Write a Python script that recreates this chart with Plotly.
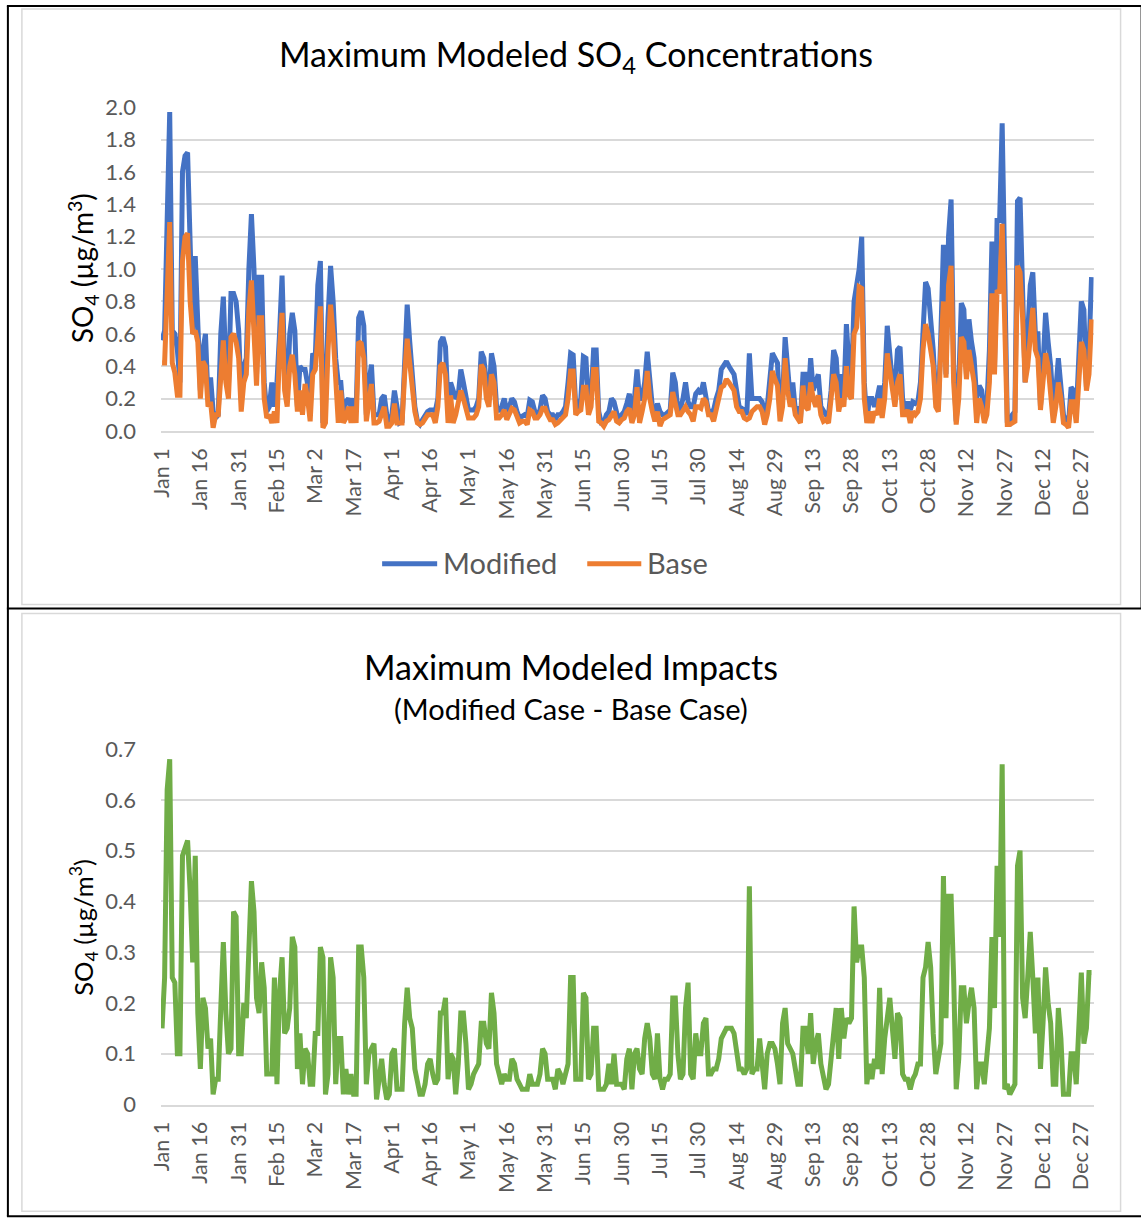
import pandas as pd
import plotly.graph_objects as go

# ---------------- data (daily values, Jan 1 .. Dec 31) ----------------
start_date = "2019-01-01"
n_days = 365

modified = [
    0.56, 0.62, 1.30, 1.97, 0.62, 0.60, 0.50, 0.30, 1.60, 1.70, 1.72, 1.00, 0.60, 1.08, 0.60,
    0.25, 0.50, 0.60, 0.20, 0.33, 0.12, 0.08, 0.10, 0.60, 0.83, 0.40, 0.28, 0.85, 0.85, 0.80,
    0.62, 0.20, 0.40, 0.45, 1.00, 1.34, 1.00, 0.35, 0.95, 0.95, 0.30, 0.12, 0.15, 0.30, 0.15,
    0.30, 0.60, 0.96, 0.40, 0.20, 0.60, 0.73, 0.62, 0.15, 0.40, 0.38, 0.38, 0.30, 0.20, 0.48,
    0.45, 0.90, 1.05, 0.05, 0.20, 0.70, 1.02, 0.80, 0.45, 0.30, 0.30, 0.10, 0.18, 0.20, 0.15,
    0.20, 0.12, 0.70, 0.74, 0.65, 0.10, 0.30, 0.41, 0.10, 0.10, 0.10, 0.20, 0.22, 0.10, 0.05,
    0.10, 0.25, 0.15, 0.05, 0.06, 0.50, 0.78, 0.55, 0.30, 0.15, 0.06, 0.04, 0.07, 0.10, 0.12,
    0.13, 0.13, 0.12, 0.20, 0.55, 0.58, 0.52, 0.15, 0.30, 0.25, 0.20, 0.22, 0.38, 0.30, 0.20,
    0.13, 0.13, 0.13, 0.15, 0.20, 0.49, 0.45, 0.30, 0.20, 0.48, 0.40, 0.15, 0.12, 0.15, 0.20,
    0.12, 0.15, 0.20, 0.18, 0.12, 0.08, 0.09, 0.10, 0.09, 0.19, 0.18, 0.12, 0.10, 0.13, 0.22,
    0.20, 0.12, 0.10, 0.10, 0.07, 0.10, 0.10, 0.12, 0.15, 0.30, 0.48, 0.47, 0.15, 0.15, 0.20,
    0.46, 0.45, 0.15, 0.20, 0.50, 0.50, 0.12, 0.05, 0.05, 0.10, 0.12, 0.20, 0.18, 0.10, 0.05,
    0.10, 0.12, 0.17, 0.23, 0.10, 0.20, 0.38, 0.20, 0.20, 0.30, 0.49, 0.30, 0.15, 0.10, 0.17,
    0.12, 0.10, 0.10, 0.12, 0.13, 0.36, 0.30, 0.12, 0.14, 0.20, 0.30, 0.18, 0.15, 0.15, 0.23,
    0.25, 0.23, 0.30, 0.22, 0.12, 0.12, 0.13, 0.20, 0.25, 0.38, 0.40, 0.43, 0.40, 0.38, 0.35,
    0.25, 0.15, 0.14, 0.13, 0.10, 0.48, 0.20, 0.20, 0.20, 0.20, 0.18, 0.10, 0.15, 0.30, 0.48,
    0.45, 0.42, 0.10, 0.20, 0.58, 0.40, 0.20, 0.30, 0.13, 0.15, 0.07, 0.35, 0.35, 0.20, 0.45,
    0.25, 0.30, 0.35, 0.15, 0.12, 0.10, 0.10, 0.25, 0.50, 0.45, 0.20, 0.35, 0.20, 0.66, 0.40,
    0.30, 0.80, 0.90, 1.00, 1.20, 0.30, 0.06, 0.20, 0.20, 0.15, 0.20, 0.28, 0.15, 0.30, 0.65,
    0.50, 0.30, 0.25, 0.50, 0.52, 0.20, 0.13, 0.18, 0.13, 0.18, 0.17, 0.18, 0.30, 0.60, 0.92,
    0.88, 0.70, 0.50, 0.20, 0.15, 0.60, 1.15, 0.35, 1.20, 1.43, 0.40, 0.06, 0.30, 0.79, 0.75,
    0.35, 0.69, 0.55, 0.45, 0.20, 0.28, 0.25, 0.10, 0.15, 0.50, 1.17, 0.38, 1.30, 1.30, 1.90,
    0.90, 0.06, 0.05, 0.10, 0.12, 1.42, 1.44, 0.85, 0.30, 0.60, 0.90, 0.98, 0.60, 0.60, 0.15,
    0.40, 0.73, 0.55, 0.40, 0.15, 0.25, 0.45, 0.30, 0.10, 0.06, 0.05, 0.27, 0.25, 0.10, 0.40,
    0.80, 0.75, 0.27, 0.50, 0.95,
]

base = [
    0.42, 0.42, 0.85, 1.29, 0.42, 0.36, 0.22, 0.22, 1.05, 1.20, 1.22, 0.80, 0.60, 0.62, 0.55,
    0.20, 0.43, 0.40, 0.15, 0.18, 0.02, 0.10, 0.10, 0.40, 0.56, 0.30, 0.20, 0.58, 0.60, 0.55,
    0.45, 0.12, 0.30, 0.35, 0.75, 0.93, 0.60, 0.28, 0.70, 0.70, 0.20, 0.08, 0.10, 0.05, 0.12,
    0.05, 0.50, 0.73, 0.25, 0.15, 0.40, 0.47, 0.35, 0.12, 0.25, 0.10, 0.29, 0.20, 0.06, 0.35,
    0.38, 0.60, 0.77, 0.02, 0.05, 0.50, 0.78, 0.60, 0.35, 0.05, 0.25, 0.05, 0.08, 0.15, 0.05,
    0.15, 0.05, 0.55, 0.54, 0.45, 0.06, 0.20, 0.29, 0.05, 0.05, 0.06, 0.10, 0.15, 0.03, 0.03,
    0.05, 0.17, 0.05, 0.05, 0.05, 0.35, 0.57, 0.42, 0.25, 0.12, 0.05, 0.04, 0.05, 0.08, 0.10,
    0.10, 0.10, 0.05, 0.15, 0.40, 0.42, 0.35, 0.05, 0.22, 0.05, 0.10, 0.18, 0.25, 0.20, 0.15,
    0.08, 0.08, 0.08, 0.10, 0.15, 0.41, 0.38, 0.20, 0.15, 0.35, 0.30, 0.08, 0.08, 0.10, 0.13,
    0.07, 0.10, 0.14, 0.13, 0.08, 0.05, 0.06, 0.06, 0.04, 0.13, 0.12, 0.08, 0.08, 0.10, 0.14,
    0.14, 0.10, 0.07, 0.07, 0.04, 0.05, 0.07, 0.08, 0.10, 0.20, 0.37, 0.37, 0.10, 0.12, 0.13,
    0.27, 0.27, 0.10, 0.15, 0.38, 0.38, 0.06, 0.05, 0.03, 0.06, 0.07, 0.10, 0.12, 0.06, 0.05,
    0.07, 0.08, 0.12, 0.14, 0.05, 0.10, 0.27, 0.05, 0.12, 0.20, 0.37, 0.20, 0.12, 0.06, 0.12,
    0.03, 0.07, 0.08, 0.09, 0.10, 0.24, 0.15, 0.10, 0.10, 0.12, 0.15, 0.12, 0.10, 0.06, 0.15,
    0.15, 0.14, 0.20, 0.18, 0.10, 0.10, 0.06, 0.12, 0.20, 0.27, 0.28, 0.32, 0.30, 0.28, 0.25,
    0.15, 0.12, 0.12, 0.08, 0.07, 0.08, 0.12, 0.14, 0.15, 0.15, 0.12, 0.04, 0.10, 0.20, 0.37,
    0.32, 0.28, 0.06, 0.15, 0.45, 0.25, 0.15, 0.20, 0.10, 0.07, 0.05, 0.28, 0.15, 0.13, 0.30,
    0.20, 0.15, 0.22, 0.10, 0.06, 0.07, 0.05, 0.20, 0.35, 0.30, 0.12, 0.20, 0.15, 0.40, 0.22,
    0.20, 0.60, 0.64, 0.89, 0.88, 0.20, 0.05, 0.12, 0.05, 0.12, 0.10, 0.20, 0.08, 0.20, 0.48,
    0.38, 0.25, 0.15, 0.30, 0.35, 0.10, 0.10, 0.13, 0.05, 0.12, 0.10, 0.12, 0.20, 0.50, 0.66,
    0.60, 0.50, 0.40, 0.15, 0.12, 0.50, 0.80, 0.33, 0.90, 1.02, 0.30, 0.04, 0.20, 0.58, 0.55,
    0.32, 0.50, 0.40, 0.30, 0.05, 0.20, 0.15, 0.05, 0.10, 0.30, 0.85, 0.35, 0.87, 0.85, 1.28,
    0.60, 0.04, 0.04, 0.05, 0.06, 1.02, 0.98, 0.70, 0.30, 0.40, 0.60, 0.76, 0.50, 0.45, 0.13,
    0.30, 0.48, 0.40, 0.25, 0.05, 0.15, 0.30, 0.20, 0.05, 0.04, 0.02, 0.18, 0.18, 0.05, 0.30,
    0.55, 0.50, 0.25, 0.35, 0.69,
]

impact = [
    0.15, 0.25, 0.62, 0.68, 0.25, 0.24, 0.10, 0.10, 0.49, 0.51, 0.52, 0.42, 0.28, 0.49, 0.18,
    0.07, 0.21, 0.19, 0.11, 0.13, 0.02, 0.05, 0.05, 0.19, 0.32, 0.18, 0.10, 0.11, 0.38, 0.37,
    0.10, 0.10, 0.20, 0.17, 0.33, 0.44, 0.38, 0.21, 0.18, 0.28, 0.23, 0.06, 0.06, 0.06, 0.25,
    0.04, 0.22, 0.29, 0.14, 0.15, 0.19, 0.33, 0.31, 0.07, 0.14, 0.04, 0.11, 0.10, 0.04, 0.04,
    0.14, 0.14, 0.31, 0.29, 0.02, 0.06, 0.29, 0.25, 0.04, 0.13, 0.13, 0.02, 0.07, 0.02, 0.06,
    0.02, 0.02, 0.31, 0.31, 0.25, 0.04, 0.10, 0.11, 0.12, 0.01, 0.05, 0.09, 0.04, 0.01, 0.02,
    0.10, 0.11, 0.03, 0.03, 0.03, 0.16, 0.23, 0.17, 0.15, 0.07, 0.04, 0.02, 0.02, 0.04, 0.08,
    0.09, 0.06, 0.04, 0.05, 0.18, 0.18, 0.21, 0.05, 0.10, 0.09, 0.02, 0.08, 0.18, 0.18, 0.12,
    0.03, 0.04, 0.06, 0.07, 0.08, 0.16, 0.16, 0.12, 0.11, 0.22, 0.18, 0.08, 0.06, 0.04, 0.06,
    0.05, 0.05, 0.09, 0.08, 0.05, 0.04, 0.03, 0.03, 0.03, 0.06, 0.04, 0.04, 0.04, 0.06, 0.11,
    0.10, 0.05, 0.05, 0.05, 0.03, 0.07, 0.06, 0.04, 0.06, 0.08, 0.25, 0.25, 0.05, 0.05, 0.05,
    0.22, 0.21, 0.05, 0.06, 0.15, 0.15, 0.03, 0.03, 0.03, 0.04, 0.08, 0.04, 0.10, 0.04, 0.04,
    0.04, 0.03, 0.09, 0.11, 0.03, 0.10, 0.11, 0.07, 0.06, 0.13, 0.16, 0.13, 0.06, 0.05, 0.14,
    0.05, 0.03, 0.05, 0.05, 0.06, 0.21, 0.21, 0.10, 0.05, 0.06, 0.19, 0.24, 0.06, 0.05, 0.14,
    0.10, 0.10, 0.16, 0.17, 0.06, 0.06, 0.07, 0.07, 0.09, 0.13, 0.14, 0.15, 0.15, 0.15, 0.14,
    0.10, 0.07, 0.07, 0.06, 0.07, 0.43, 0.06, 0.07, 0.07, 0.13, 0.08, 0.03, 0.10, 0.12, 0.12,
    0.11, 0.08, 0.04, 0.16, 0.19, 0.12, 0.11, 0.10, 0.07, 0.04, 0.04, 0.15, 0.15, 0.10, 0.18,
    0.08, 0.12, 0.14, 0.08, 0.06, 0.03, 0.04, 0.09, 0.16, 0.19, 0.09, 0.19, 0.13, 0.17, 0.16,
    0.17, 0.39, 0.28, 0.31, 0.31, 0.25, 0.04, 0.08, 0.05, 0.09, 0.07, 0.23, 0.06, 0.13, 0.18,
    0.21, 0.15, 0.09, 0.18, 0.17, 0.06, 0.05, 0.05, 0.03, 0.05, 0.06, 0.08, 0.08, 0.25, 0.27,
    0.32, 0.27, 0.14, 0.06, 0.09, 0.12, 0.45, 0.17, 0.41, 0.41, 0.25, 0.03, 0.09, 0.23, 0.23,
    0.16, 0.20, 0.23, 0.19, 0.03, 0.08, 0.08, 0.04, 0.09, 0.15, 0.33, 0.19, 0.47, 0.33, 0.67,
    0.03, 0.04, 0.02, 0.03, 0.04, 0.47, 0.50, 0.21, 0.17, 0.25, 0.34, 0.25, 0.14, 0.25, 0.07,
    0.16, 0.27, 0.20, 0.16, 0.04, 0.04, 0.19, 0.13, 0.02, 0.02, 0.02, 0.10, 0.10, 0.04, 0.16,
    0.26, 0.12, 0.15, 0.26, 0.26,
]

tick_labels = ["Jan 1", "Jan 16", "Jan 31", "Feb 15", "Mar 2", "Mar 17", "Apr 1", "Apr 16",
               "May 1", "May 16", "May 31", "Jun 15", "Jun 30", "Jul 15", "Jul 30", "Aug 14",
               "Aug 29", "Sep 13", "Sep 28", "Oct 13", "Oct 28", "Nov 12", "Nov 27", "Dec 12",
               "Dec 27"]

# ---------------- figure ----------------
dates = pd.date_range(start_date, periods=n_days, freq="D")
tick_vals = list(dates[::15])

W, H = 1141, 1220
# observed photo placement of the page (offset / scale) used to place elements
OX, SX = 12.1, 0.988
OY, SY = 13.1, 0.980
FONT = "Lato, 'Open Sans', sans-serif"
GRAY = "#595959"
GRID = "#d9d9d9"
BLUE, ORANGE, GREEN = "#4472C4", "#ED7D31", "#70AD47"


def px_x(p):
    return ((p - OX) / SX) / W


def px_y(p):
    return 1 - ((p - OY) / SY) / H


x_range = [dates[0] - pd.Timedelta(hours=10), dates[-1] + pd.Timedelta(hours=19)]

fig = go.Figure()
fig.add_trace(go.Scatter(x=dates, y=modified, name="Modified", mode="lines", showlegend=False,
                         line=dict(color=BLUE, width=5), xaxis="x", yaxis="y"))
fig.add_trace(go.Scatter(x=dates, y=base, name="Base", mode="lines", showlegend=False,
                         line=dict(color=ORANGE, width=5), xaxis="x", yaxis="y"))
fig.add_trace(go.Scatter(x=dates, y=impact, name="Impact", mode="lines", showlegend=False,
                         line=dict(color=GREEN, width=5), xaxis="x2", yaxis="y2"))

xaxis_common = dict(
    type="date", range=x_range, tickvals=tick_vals, ticktext=tick_labels,
    tickangle=-90, tickfont=dict(family=FONT, size=21.5, color=GRAY),
    showgrid=False, showline=True, linecolor=GRID, linewidth=1.5,
    ticks="", zeroline=False, ticklabelstandoff=7, fixedrange=True,
    domain=[px_x(160), px_x(1092)],
)
yaxis_common = dict(
    showgrid=True, gridcolor=GRID, gridwidth=1.5, zeroline=False, showline=False,
    ticks="", tickfont=dict(family=FONT, size=22, color=GRAY), ticklabelstandoff=24,
    fixedrange=True,
)

fig.update_layout(
    width=W, height=H,
    margin=dict(l=0, r=0, t=0, b=0),
    paper_bgcolor="white", plot_bgcolor="white",
    font=dict(family=FONT, color=GRAY),
    xaxis=dict(**xaxis_common, anchor="y"),
    yaxis=dict(**yaxis_common, domain=[px_y(431), px_y(106)], range=[0, 2.003],
               dtick=0.2, tick0=0, tickformat=".1f", anchor="x"),
    xaxis2=dict(**xaxis_common, anchor="y2"),
    yaxis2=dict(**yaxis_common, domain=[px_y(1106), px_y(749)], range=[0, 0.7015],
                dtick=0.1, tick0=0, anchor="x2"),
    showlegend=False,
)

annotations = [
    dict(text="Maximum Modeled SO<sub>4</sub> Concentrations", x=px_x(575), y=px_y(55),
         font=dict(family=FONT, size=34, color="black")),
    dict(text="SO<sub>4</sub> (µg/m<sup>3</sup>)", x=px_x(82), y=px_y(268), textangle=-90,
         font=dict(family=FONT, size=28, color="black")),
    dict(text="Maximum Modeled Impacts", x=px_x(570), y=px_y(667),
         font=dict(family=FONT, size=34, color="black")),
    dict(text="(Modified Case - Base Case)", x=px_x(570), y=px_y(709),
         font=dict(family=FONT, size=29, color="black")),
    dict(text="SO<sub>4</sub> (µg/m<sup>3</sup>)", x=px_x(82), y=px_y(928), textangle=-90,
         font=dict(family=FONT, size=25.5, color="black")),
    # legend texts
    dict(text="Modified", x=px_x(440), y=px_y(563), xanchor="left",
         font=dict(family=FONT, size=29, color=GRAY)),
    dict(text="Base", x=px_x(644), y=px_y(563), xanchor="left",
         font=dict(family=FONT, size=29, color=GRAY)),
]
for a in annotations:
    a.setdefault("xanchor", "center")
    a.update(xref="paper", yref="paper", showarrow=False, yanchor="middle")
fig.update_layout(annotations=annotations)

shapes = [
    # light gray chart borders
    dict(type="rect", x0=px_x(21), x1=px_x(1119), y0=px_y(605), y1=px_y(8),
         line=dict(color=GRID, width=1.5), layer="below"),
    dict(type="rect", x0=px_x(21), x1=px_x(1119), y0=px_y(1213), y1=px_y(614),
         line=dict(color=GRID, width=1.5), layer="below"),
    # legend line samples
    dict(type="line", x0=px_x(381), x1=px_x(436), y0=px_y(564), y1=px_y(564),
         line=dict(color=BLUE, width=5), layer="above"),
    dict(type="line", x0=px_x(586), x1=px_x(640), y0=px_y(564), y1=px_y(564),
         line=dict(color=ORANGE, width=5), layer="above"),
    # black table lines
    dict(type="line", x0=px_x(6), x1=px_x(1141), y0=px_y(5), y1=px_y(5),
         line=dict(color="black", width=2), layer="above"),
    dict(type="line", x0=px_x(6), x1=px_x(1141), y0=px_y(609), y1=px_y(609),
         line=dict(color="black", width=2), layer="above"),
    dict(type="line", x0=px_x(6), x1=px_x(1141), y0=px_y(1218), y1=px_y(1218),
         line=dict(color="black", width=2), layer="above"),
    dict(type="line", x0=px_x(7), x1=px_x(7), y0=px_y(5), y1=px_y(1218),
         line=dict(color="black", width=2), layer="above"),
    dict(type="line", x0=px_x(1140), x1=px_x(1140), y0=px_y(5), y1=px_y(609),
         line=dict(color="black", width=2), layer="above"),
]
for s in shapes:
    s.update(xref="paper", yref="paper")
fig.update_layout(shapes=shapes)

fig.write_html(
    "out.html",
    config={"displayModeBar": False},
    post_script="document.body.style.margin='0px';document.body.style.padding='0px';",
)
